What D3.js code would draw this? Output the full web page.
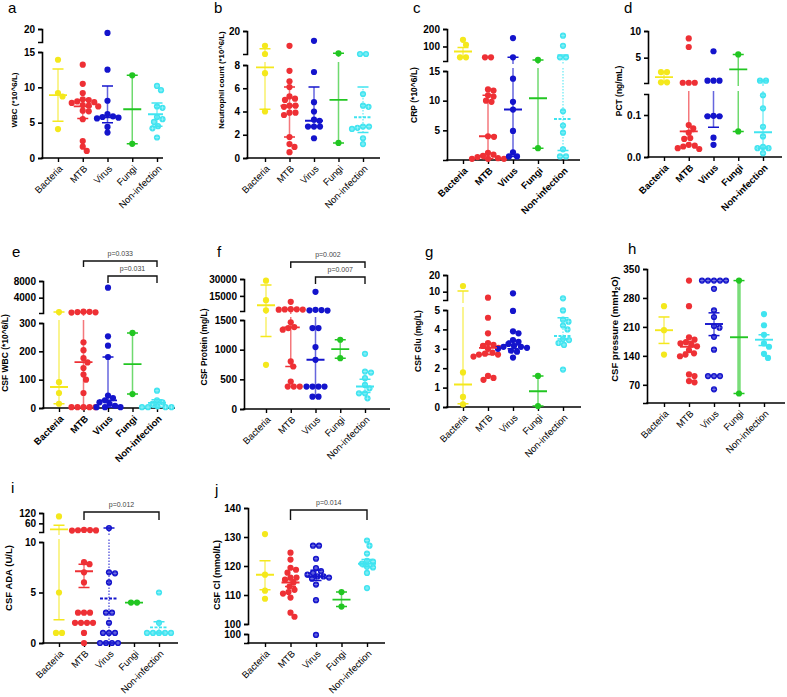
<!DOCTYPE html>
<html lang="en">
<head>
<meta charset="UTF-8">
<title>Blood and CSF markers by infection group</title>
<script src="https://cdn.jsdelivr.net/npm/d3@7"></script>
<style>
  html, body { margin: 0; padding: 0; background: #fff; }
  svg { display: block; font-family: "Liberation Sans", Arial, sans-serif; }
</style>
</head>
<body>
<svg id="chart" width="787" height="697"></svg>
<script>
const groups = ['Bacteria', 'MTB', 'Virus', 'Fungi', 'Non-infection'];
const groupColors = ['#f4e81c', '#ee3035', '#1414cc', '#22c622', '#40e4f0'];

// each panel: one array of points per group, then [centre, lower bar, upper bar] per group
// a. blood WBC
const wbc = [
  [13.9, 9.2, 8.7, 4.1],
  [13.2, 10.5, 9.2, 8.3, 8.2, 8.0, 7.9, 7.8, 7.5, 7.4, 7.3, 6.7, 6.6, 5.5, 2.4, 1.6, 1.0],
  [19.4, 12.5, 8.1, 6.2, 5.9, 5.8, 5.7, 5.6, 4.4, 3.6],
  [11.7, 2.0],
  [10.2, 9.6, 7.3, 7.1, 5.8, 5.5, 5.1, 4.5, 4.2, 2.9]
];
const wbcStats = [[8.9, 5.2, 12.6], [7.3, 5.6, 8.2], [5.75, 5.0, 10.2], [6.9, 2.0, 11.7], [6.2, 4.5, 7.8]];

// b. neutrophil count
const neut = [
  [12.9, 9.0, 7.3, 4.0],
  [12.9, 7.5, 6.6, 6.1, 5.3, 5.1, 5.0, 4.5, 4.5, 4.4, 3.9, 3.9, 3.7, 1.8, 1.2, 0.95, 0.5],
  [15.3, 7.4, 4.8, 4.0, 3.3, 3.2, 2.7, 2.7, 2.7, 1.7],
  [9.3, 1.3],
  [9.0, 9.0, 5.5, 4.5, 4.4, 2.7, 2.7, 2.6, 2.5, 1.7, 1.2]
];
const neutStats = [[7.8, 4.2, 11.5], [4.5, 1.8, 6.1], [3.2, 2.7, 6.1], [5.0, 1.3, 9.3], [3.5, 2.2, 6.1]];

// c. CRP
const crp = [
  [138, 110, 38, 38],
  [38, 38, 11.9, 11.7, 10.9, 10.7, 10.0, 9.8, 4.0, 3.9, 1.2, 0.9, 0.7, 0.5, 0.3, 0.2, 0.2, 0.2],
  [148, 38, 13.7, 9.8, 8.5, 4.9, 1.3, 0.6, 0.6],
  [23, 2.0],
  [162, 104, 38, 38, 8.2, 5.8, 4.6, 1.8, 0.6, 0.6]
];
const crpStats = [[71, 38, 94], [4.0, 0.2, 10.9], [8.5, 0.6, 38], [10.4, 2.0, 23], [6.9, 1.6, 52]];

// d. PCT
const pct = [
  [2.3, 2.3, 0.37, 0.37],
  [8.6, 7.0, 0.3, 0.3, 0.3, 0.076, 0.068, 0.058, 0.045, 0.043, 0.029, 0.027, 0.025, 0.021, 0.019],
  [6.2, 0.68, 0.68, 0.68, 0.098, 0.097, 0.097, 0.046, 0.029],
  [5.6, 0.061],
  [0.68, 0.68, 0.147, 0.116, 0.072, 0.049, 0.024, 0.021, 0.021, 0.009]
];
const pctStats = [[1.35, 0.5, 2.2], [0.061, 0.061, 0.2], [0.097, 0.071, 0.2], [2.8, 0.061, 5.6], [0.059, 0.021, 0.68]];

// e. CSF WBC
const csfWbc = [
  [560, 91, 53, 15],
  [650, 600, 540, 480, 420, 232, 204, 176, 161, 141, 118, 100, 53, 3, 3, 3, 3, 3],
  [6400, 253, 220, 180, 44, 35, 27, 20, 15, 8, 3, 3, 3],
  [265, 49],
  [61, 27, 20, 15, 6, 3, 3, 3, 3]
];
const csfWbcStats = [[74, 15, 560], [162, 3, 560], [27, 3, 180], [155, 49, 265], [18, 3, 29]];

// f. CSF protein
const protein = [
  [28500, 11200, 2200, 744],
  [9700, 3200, 3100, 3000, 2900, 2800, 1460, 1381, 1364, 1336, 801, 716, 462, 378, 378, 378],
  [18600, 2600, 2400, 2200, 2000, 1364, 1364, 1043, 829, 378, 378, 378, 378, 208, 208],
  [1167, 857],
  [930, 631, 614, 519, 406, 349, 265, 265, 180]
];
const proteinStats = [[6700, 1223, 24600], [1375, 716, 3100], [829, 208, 1550], [1009, 857, 1167], [378, 276, 502]];

// g. CSF glucose
const glu = [
  [13.4, 1.78, 0.52, 0.14],
  [6.4, 4.6, 3.8, 3.3, 3.2, 3.15, 3.05, 3.0, 2.8, 2.75, 2.7, 2.7, 2.6, 1.6, 1.5, 1.4],
  [9.0, 4.95, 3.9, 3.8, 3.45, 3.36, 3.25, 3.15, 3.1, 3.1, 3.05, 3.0, 2.9, 2.85, 2.55],
  [1.6, 0.05],
  [6.0, 4.98, 4.5, 4.4, 4.2, 4.0, 3.5, 3.45, 3.3, 3.2, 1.93]
];
const gluStats = [[1.16, 0.17, 10.4], [3.05, 2.7, 3.25], [3.2, 3.0, 3.4], [0.81, 0.05, 1.6], [3.66, 3.5, 4.6]];

// h. CSF pressure
const pressure = [
  [260, 202, 143],
  [322, 260, 185, 179, 173, 170, 167, 163, 154, 146, 143, 139, 95, 91, 79, 76],
  [322, 322, 322, 322, 322, 302, 250, 234, 212, 208, 186, 155, 91, 91, 91, 59],
  [322, 49],
  [241, 214, 191, 170, 162, 145, 135]
];
const pressureStats = [[202, 170, 234], [162, 149, 175], [217, 189, 244], [185, 49, 322], [179, 165, 191]];

// i. CSF ADA
const ada = [
  [100, 5.0, 1.0, 1.0],
  [22, 21, 20, 19, 18, 8.0, 7.8, 7.0, 6.0, 3.0, 3.0, 3.0, 2.0, 2.0, 2.0, 2.0, 1.0, 0],
  [33, 7.0, 6.9, 6.0, 3.0, 3.0, 2.0, 1.0, 1.0, 1.0, 0, 0, 0, 0],
  [4.0, 4.0],
  [5.0, 2.0, 1.0, 1.0, 1.0, 1.0, 1.0]
];
const adaStats = [[25, 2.3, 48.6], [7.1, 5.5, 7.8], [4.4, 0, 33], [4.0, 4.0, 4.0], [1.55, 1.0, 2.1]];

// j. CSF chloride
const chloride = [
  [131, 117, 111.5, 108.7],
  [124.6, 122.2, 119.4, 118.7, 117.7, 116, 116, 115.3, 114.3, 112.9, 111.8, 111, 110.5, 109.1, 103.9, 102.5],
  [127, 127, 122.5, 119.3, 118.2, 117.6, 117, 116.4, 116.4, 116, 115.6, 113.6, 108.2, 99.7],
  [111, 106],
  [128.8, 127, 124.3, 121.8, 121.5, 120.8, 119.7, 119.5, 117.6, 112.4]
];
const chlorideStats = [[117, 111.8, 121.8], [114.3, 112.9, 115.3], [116.4, 115, 118.5], [108.4, 106, 111], [120.8, 119.7, 122.2]];

const panels = [
  { letter: 'a', lx: 8, ly: 13, title: 'WBC (*10^6/L)', ts: 8, tx: 15, ty: 100, values: wbc, stats: wbcStats,
    axisX: 42, axisY: 158, cats: [58, 157], lineEnd: 163,
    segments: [{ domain: [0, 15], range: [158, 52], ticks: [0, 5, 10, 15] },
               { domain: [18, 20], range: [42, 29], ticks: [20] }],
    crossed: [4], dashed: [] },
  { letter: 'b', lx: 214, ly: 13, title: 'Neutrophil count (*10^6/L)', ts: 7.8, tx: 222, ty: 80, values: neut, stats: neutStats,
    axisX: 247, axisY: 158, cats: [265, 363], lineEnd: 380,
    segments: [{ domain: [0, 8], range: [158, 65], ticks: [0, 2, 4, 6, 8] },
               { domain: [9, 20], range: [54, 31], ticks: [20] }],
    crossed: [4], dashed: [4] },
  { letter: 'c', lx: 413, ly: 13, title: 'CRP (*10^6/L)', ts: 8.5, tx: 415, ty: 95, values: crp, stats: crpStats,
    axisX: 447, axisY: 160, cats: [463, 563], lineEnd: 580, boldLabels: true,
    segments: [{ domain: [0, 15], range: [160, 71], ticks: [5, 10, 15] },
               { domain: [17, 200], range: [61, 29], ticks: [100, 200] }],
    crossed: [4], dashed: [4] },
  { letter: 'd', lx: 624, ly: 13, title: 'PCT (ng/mL)', ts: 8.5, tx: 620, ty: 91, values: pct, stats: pctStats,
    axisX: 648, axisY: 157, cats: [664, 763], lineEnd: 782, boldLabels: true,
    segments: [{ domain: [0, 0.15], range: [157, 94], ticks: [0, 0.1], fmt: '.1f' },
               { domain: [0.25, 10], range: [83, 31], ticks: [5, 10] }],
    crossed: [4], dashed: [] },
  { letter: 'e', lx: 12, ly: 257, title: 'CSF WBC (*10^6/L)', ts: 8.5, tx: 6, ty: 353, values: csfWbc, stats: csfWbcStats,
    axisX: 43, axisY: 408, cats: [59, 157], lineEnd: 175, boldLabels: true,
    segments: [{ domain: [0, 300], range: [408, 323], ticks: [0, 100, 200, 300] },
               { domain: [320, 8000], range: [313, 281], ticks: [4000, 8000] }],
    crossed: [4], dashed: [],
    brackets: [{ from: 1, to: 4, y: 261, drop: 6, label: 'p=0.033' }, { from: 2, to: 4, y: 276, drop: 7, label: 'p=0.031' }] },
  { letter: 'f', lx: 217, ly: 257, title: 'CSF Protein (mg/L)', ts: 8.5, tx: 205, ty: 347, values: protein, stats: proteinStats,
    axisX: 244, axisY: 409, cats: [266, 365], lineEnd: 390,
    segments: [{ domain: [0, 1500], range: [409, 320], ticks: [0, 500, 1000, 1500] },
               { domain: [1600, 30000], range: [311, 279], ticks: [15000, 30000] }],
    crossed: [4], dashed: [],
    brackets: [{ from: 1, to: 4, y: 262, drop: 6, label: 'p=0.002' }, { from: 2, to: 4, y: 277, drop: 7, label: 'p=0.007' }] },
  { letter: 'g', lx: 425, ly: 257, title: 'CSF Glu (mg/L)', ts: 8.5, tx: 419, ty: 341, values: glu, stats: gluStats,
    axisX: 447, axisY: 407, cats: [463, 563], lineEnd: 581,
    segments: [{ domain: [0, 5], range: [407, 310], ticks: [0, 1, 2, 3, 4, 5] },
               { domain: [5, 20], range: [300, 275], ticks: [10, 20] }],
    crossed: [4], dashed: [4] },
  { letter: 'h', lx: 628, ly: 254, title: 'CSF pressure (mmH', sub: '2', titleEnd: 'O)', ts: 9.5, tx: 615, ty: 329,
    values: pressure, stats: pressureStats,
    axisX: 647, axisY: 403, cats: [664, 764], lineEnd: 785,
    segments: [{ domain: [26, 350], range: [403, 269], ticks: [70, 140, 210, 280, 350] }],
    crossed: [2], dashed: [], wide: [3] },
  { letter: 'i', lx: 11, ly: 493, title: 'CSF ADA (U/L)', ts: 9.5, tx: 9, ty: 578, values: ada, stats: adaStats,
    axisX: 43, axisY: 643, cats: [59, 159], lineEnd: 178,
    segments: [{ domain: [0, 10], range: [643, 542], ticks: [0, 5, 10] },
               { domain: [10, 120], range: [532, 513], ticks: [60, 120] }],
    crossed: [2, 4], dashed: [2, 4],
    brackets: [{ from: 1, to: 4, y: 512, drop: 8, label: 'p=0.012' }] },
  { letter: 'j', lx: 215, ly: 495, title: 'CSF Cl (mmol/L)', ts: 9, tx: 218, ty: 575, values: chloride, stats: chlorideStats,
    axisX: 248, axisY: 643, cats: [265, 367], lineEnd: 385,
    segments: [{ domain: [97, 100], range: [643, 634], ticks: [100] },
               { domain: [100, 140], range: [624, 508], ticks: [100, 110, 120, 130, 140] }],
    crossed: [2, 4], dashed: [],
    brackets: [{ from: 1, to: 4, y: 510, drop: 10, label: 'p=0.014' }] }
];

const R = 3.1;
const svg = d3.select('#chart');
panels.forEach(p => drawPanel(svg.append('g'), p));

// value -> pixel across the broken axis; values in a gap land in the gap
function brokenScale(segments) {
  const scales = segments.map(s => d3.scaleLinear().domain(s.domain).range(s.range));
  return v => {
    for (let i = 0; i < segments.length; i++) {
      const [d0, d1] = segments[i].domain;
      if (v >= d0 && v <= d1) return scales[i](v);
      const next = segments[i + 1];
      if (next && v > d1 && v < next.domain[0]) {
        const t = (v - d1) / (next.domain[0] - d1);
        return segments[i].range[1] + t * (next.range[0] - segments[i].range[1]);
      }
    }
    return v < segments[0].domain[0] ? scales[0](v) : scales[scales.length - 1](v);
  };
}

// simple beeswarm, dots may overlap a little like in the original
function swarm(vals, y) {
  const gap = 2 * R - 0.6;
  const pts = vals.map(v => ({ v, py: y(v), dx: 0 })).sort((a, b) => a.py - b.py);
  const placed = [];
  pts.forEach(pt => {
    for (let k = 0; k < 200; k++) {
      const off = (k % 2 ? 1 : -1) * Math.ceil(k / 2) * 0.5;
      if (placed.every(q => Math.hypot(q.dx - off, q.py - pt.py) >= gap)) { pt.dx = off; break; }
    }
    placed.push(pt);
  });
  // centre rows of tied values when that does not cause overlaps
  d3.groups(pts, d => d.v).forEach(([, row]) => {
    if (row.length < 2) return;
    const m = d3.mean(row, d => d.dx);
    const others = pts.filter(d => !row.includes(d));
    const ok = row.every(d => others.every(q => Math.hypot(q.dx - (d.dx - m), q.py - d.py) >= gap));
    if (ok) row.forEach(d => { d.dx -= m; });
  });
  return pts;
}

function drawPanel(g, p) {
  const x = d3.scalePoint().domain(groups).range(p.cats);
  const y = brokenScale(p.segments);
  const clipId = 'clip-' + p.letter;

  const cp = g.append('clipPath').attr('id', clipId);
  p.segments.forEach(s => {
    cp.append('rect')
      .attr('x', p.axisX).attr('width', p.lineEnd - p.axisX)
      .attr('y', Math.min(...s.range) - 3)
      .attr('height', Math.abs(s.range[0] - s.range[1]) + 6);
  });

  // panel letter
  g.append('text').attr('x', p.lx).attr('y', p.ly)
    .attr('font-size', 15).text(p.letter);

  // y axis, one piece per segment
  p.segments.forEach(s => {
    const sc = d3.scaleLinear().domain(s.domain).range(s.range);
    const ax = d3.axisLeft(sc).tickValues(s.ticks).tickSize(4).tickSizeOuter(4).tickPadding(3)
      .tickFormat(s.fmt ? d3.format(s.fmt) : d3.format('d'));
    const ag = g.append('g').attr('transform', `translate(${p.axisX},0)`).call(ax);
    ag.selectAll('path, line').attr('stroke', '#000').attr('stroke-width', 1.6);
    ag.selectAll('text').attr('font-size', 10).attr('font-weight', 'bold').attr('fill', '#000')
      .attr('font-family', '"Liberation Sans", Arial, sans-serif');
  });

  // x axis
  g.append('line').attr('x1', p.axisX - 0.8).attr('x2', p.lineEnd)
    .attr('y1', p.axisY).attr('y2', p.axisY).attr('stroke', '#000').attr('stroke-width', 1.6);
  const xa = g.append('g').attr('transform', `translate(0,${p.axisY})`)
    .call(d3.axisBottom(x).tickSize(4).tickSizeOuter(0).tickFormat(''));
  xa.select('.domain').remove();
  xa.selectAll('line').attr('stroke', '#000').attr('stroke-width', 1.4);
  groups.forEach(name => {
    g.append('text')
      .attr('transform', `translate(${x(name) + 3},${p.axisY + 9}) rotate(-45)`)
      .attr('text-anchor', 'end').attr('dy', '0.35em')
      .attr('font-size', 9.5).attr('font-weight', p.boldLabels ? 'bold' : 'normal')
      .text(name);
  });

  // y title
  const tt = g.append('text')
    .attr('transform', `translate(${p.tx},${p.ty}) rotate(-90)`)
    .attr('text-anchor', 'middle').attr('dominant-baseline', 'middle')
    .attr('font-size', p.ts).attr('font-weight', 'bold');
  tt.append('tspan').text(p.title);
  if (p.sub) {
    tt.append('tspan').attr('baseline-shift', 'sub').attr('font-size', p.ts * 0.7).text(p.sub);
    tt.append('tspan').text(p.titleEnd);
  }

  // dots
  p.values.forEach((vals, gi) => {
    const cx = x(groups[gi]);
    const col = groupColors[gi];
    const pts = swarm(vals, y);
    const dg = g.append('g');
    dg.selectAll('circle').data(pts).join('circle')
      .attr('cx', d => cx + d.dx).attr('cy', d => d.py).attr('r', R).attr('fill', col);
    if (p.crossed.includes(gi)) {
      dg.selectAll('path').data(pts).join('path')
        .attr('d', d => `M${cx + d.dx - 2},${d.py}h4M${cx + d.dx},${d.py - 2}v4`)
        .attr('stroke', '#fff').attr('stroke-width', 0.7).attr('stroke-opacity', 0.5);
    }
  });

  // centre line and error bars
  p.stats.forEach(([c, lo, hi], gi) => {
    const cx = x(groups[gi]);
    const col = groupColors[gi];
    const dashed = p.dashed.includes(gi);
    const wide = p.wide && p.wide.includes(gi);
    const eb = g.append('g').attr('clip-path', `url(#${clipId})`);
    eb.append('line').attr('x1', cx).attr('x2', cx).attr('y1', y(lo)).attr('y2', y(hi))
      .attr('stroke', col).attr('stroke-width', wide ? 3.5 : 1.5)
      .attr('stroke-opacity', wide ? 0.6 : 0.65)
      .attr('stroke-dasharray', dashed ? '1.5,1.5' : null);
    [lo, hi].forEach(v => {
      eb.append('line').attr('x1', cx - 5.5).attr('x2', cx + 5.5).attr('y1', y(v)).attr('y2', y(v))
        .attr('stroke', col).attr('stroke-width', 1.5);
    });
    eb.append('line').attr('x1', cx - 9).attr('x2', cx + 9).attr('y1', y(c)).attr('y2', y(c))
      .attr('stroke', col).attr('stroke-width', 1.9)
      .attr('stroke-dasharray', dashed ? '3,1.5' : null);
  });

  // significance brackets
  (p.brackets || []).forEach(b => {
    const x1 = x(groups[b.from]), x2 = x(groups[b.to]);
    g.append('path')
      .attr('d', `M${x1},${b.y + b.drop}V${b.y}H${x2}V${b.y + b.drop}`)
      .attr('fill', 'none').attr('stroke', '#111').attr('stroke-width', 1.4);
    g.append('text').attr('x', (x1 + x2) / 2).attr('y', b.y - 5)
      .attr('text-anchor', 'middle').attr('font-size', 7).attr('fill', '#444')
      .text(b.label);
  });
}
</script>
</body>
</html>
